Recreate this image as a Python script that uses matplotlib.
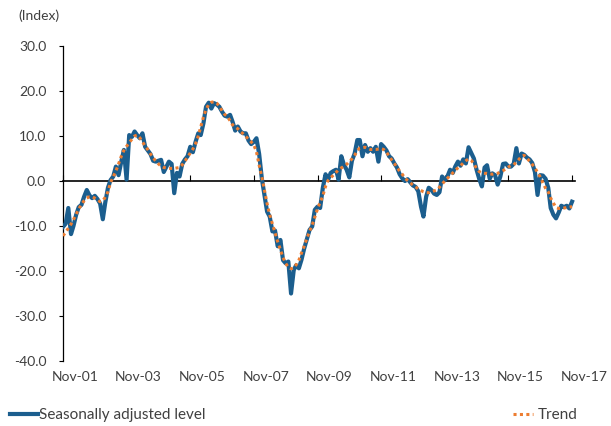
import numpy as np
import pandas as pd
import matplotlib
matplotlib.use('Agg')
import matplotlib.pyplot as plt
import matplotlib.dates as mdates
from matplotlib.transforms import ScaledTranslation

# monthly, Nov-01 .. Nov-17
months = pd.date_range('2001-11-01', periods=193, freq='MS')

seasonally_adjusted = [
    -10.2, -9.5, -6.0, -11.8, -10.0, -7.5, -5.8, -5.3, -3.5, -2.0,
    -3.2, -3.8, -3.3, -4.0, -5.0, -8.5, -4.8, -1.5, 0.2, 1.0,
    3.2, 1.3, 4.3, 6.9, 0.3, 10.2, 9.8, 11.0, 10.2, 9.5,
    10.6, 7.6, 6.8, 6.0, 4.5, 4.3, 4.5, 4.7, 2.0, 3.2,
    4.3, 3.8, -2.7, 1.8, 1.0, 3.8, 4.8, 5.5, 7.6, 6.4,
    8.7, 10.6, 10.2, 12.8, 16.5, 17.4, 16.1, 17.3, 17.0, 16.5,
    15.4, 14.5, 14.3, 14.7, 13.2, 11.2, 12.1, 11.0, 10.6, 10.6,
    9.0, 8.2, 8.7, 9.5, 6.0, 0.5, -3.0, -6.8, -7.9, -11.2,
    -11.0, -14.5, -13.1, -17.6, -18.3, -17.9, -25.0, -19.8, -18.7, -19.4,
    -17.5, -15.0, -13.0, -10.9, -10.1, -6.4, -5.7, -6.0, -1.5, 1.5,
    0.2, 1.8, 2.2, 2.5, 0.3, 5.5, 3.6, 2.5, 0.8, 4.5,
    6.1, 9.1, 9.1, 5.5, 8.0, 6.5, 7.3, 6.5, 7.6, 4.3,
    8.2, 7.6, 6.8, 5.5, 5.0, 3.9, 3.0, 1.5, 0.6, 0.0,
    0.4, -0.3, -1.0, -1.3, -2.3, -5.7, -7.9, -3.5, -1.5, -2.0,
    -2.8, -3.1, -2.5, 1.0, 0.2, 1.0, 2.5, 1.8, 3.2, 4.3,
    3.4, 4.8, 3.9, 7.5, 6.2, 5.0, 2.5, 0.5, -1.2, 3.0,
    3.5, 0.5, 1.7, 1.3, -0.8, 1.0, 3.8, 3.9, 3.2, 3.2,
    3.8, 7.3, 3.9, 6.1, 5.8, 5.2, 4.8, 4.0, 2.0, -3.1,
    1.3, 1.2, 0.5, -1.5, -6.0, -7.5, -8.3, -7.0, -5.5, -5.8,
    -5.5, -6.1, -4.6,
]

trend = [
    -12.2, -11.4, -10.5, -9.6, -8.6, -7.4, -6.2, -5.2, -4.4, -3.8,
    -3.5, -3.5, -3.8, -4.2, -4.6, -4.4, -3.6, -2.4, -0.3, 1.0,
    2.2, 3.8, 5.5, 6.8, 7.7, 8.5, 9.3, 10.0, 10.2, 9.6,
    8.7, 7.8, 7.0, 6.0, 5.2, 4.4, 3.8, 3.3, 3.0, 2.9,
    2.8, 2.8, 2.8, 2.9, 3.0, 3.6, 4.4, 5.3, 6.2, 7.1,
    8.3, 10.0, 12.0, 14.2, 15.9, 17.0, 17.5, 17.6, 17.3, 16.6,
    15.6, 14.8, 14.3, 13.4, 12.5, 12.0, 11.6, 11.0, 10.5, 9.9,
    9.3, 8.7, 8.0, 6.5, 3.5, 0.9, -2.0, -5.0, -7.5, -9.5,
    -11.5, -13.5, -15.3, -17.0, -18.3, -19.2, -19.5, -19.3, -18.6, -17.6,
    -16.0, -14.5, -12.8, -11.2, -9.8, -8.0, -6.2, -4.8, -3.3, -1.2,
    0.1, 0.7, 1.3, 1.9, 2.5, 2.9, 3.3, 3.7, 4.3, 4.9,
    5.7, 6.8, 7.3, 7.4, 7.5, 7.2, 7.0, 7.0, 7.0, 7.1,
    7.2, 7.0, 6.4, 5.6, 4.7, 3.9, 3.0, 2.2, 1.5, 0.6,
    0.1, -0.4, -0.9, -1.3, -1.8, -2.1, -2.4, -2.6, -2.6, -2.4,
    -2.2, -2.0, -1.4, -0.7, 0.0, 0.6, 1.2, 1.8, 2.4, 2.9,
    3.4, 4.0, 4.5, 4.9, 4.6, 3.8, 2.8, 2.1, 1.8, 1.7,
    1.7, 1.6, 1.5, 1.6, 1.7, 2.0, 2.3, 2.7, 3.1, 3.4,
    3.6, 4.2, 4.8, 5.5, 5.7, 5.1, 4.4, 3.7, 2.9, 1.9,
    0.9, -0.4, -1.6, -2.4, -3.8, -4.9, -5.9, -6.1, -6.1, -6.0,
    -5.9, -5.8, -5.7,
]

y_ticks = [-40, -30, -20, -10, 0, 10, 20, 30]
y_labels = ['-40.0', '-30.0', '-20.0', '-10.0', '0.0', '10.0', '20.0', '30.0']
x_tick_dates = pd.date_range('2001-11-01', '2017-11-01', freq='24MS')
x_labels = ['Nov-01', 'Nov-03', 'Nov-05', 'Nov-07', 'Nov-09',
            'Nov-11', 'Nov-13', 'Nov-15', 'Nov-17']

BLUE = '#1b5e8e'
ORANGE = '#ed7d31'
TEXT = '#404040'

plt.rcParams['font.family'] = ['Lato', 'DejaVu Sans']
plt.rcParams['font.size'] = 10

fig = plt.figure(figsize=(6.11, 4.26), dpi=100)
ax = fig.add_axes([63 / 611, 65 / 426, 512 / 611, 315 / 426])

l1, = ax.plot(months, seasonally_adjusted, color=BLUE, lw=3.0, zorder=3,
              solid_joinstyle='round', label='Seasonally adjusted level')
l2, = ax.plot(months, trend, color=ORANGE, lw=2.2, ls=(0, (1, 1.1)),
              dash_capstyle='butt', zorder=4, label='Trend')

ax.set_ylim(-40, 30)
ax.set_xlim(pd.Timestamp('2001-11-01'), pd.Timestamp('2017-12-05'))
ax.set_yticks(y_ticks)
ax.set_yticklabels(y_labels, color=TEXT)
ax.tick_params(axis='y', length=3, width=0.8, pad=9, direction='out')

for s in ['top', 'right']:
    ax.spines[s].set_visible(False)
ax.spines['left'].set_linewidth(0.9)
ax.spines['bottom'].set_position(('data', 0))
ax.spines['bottom'].set_linewidth(1.2)
ax.spines['bottom'].set_zorder(2)

# zero line carries the tick marks, labels sit at the bottom
ax.set_xticks(x_tick_dates)
ax.tick_params(axis='x', direction='in', length=4, width=0.8, labelbottom=False)

sec = ax.secondary_xaxis('bottom')
sec.set_xticks(x_tick_dates)
sec.set_xticklabels(x_labels, color=TEXT)
sec.tick_params(length=0, pad=7)
sec.spines['bottom'].set_visible(False)
shift = ScaledTranslation(12 / 100, 0, fig.dpi_scale_trans)
for lab in sec.get_xticklabels():
    lab.set_transform(lab.get_transform() + shift)

fig.text(18 / 611, 1 - 16 / 426, '(Index)', color=TEXT, va='center', ha='left')

fig.legend(handles=[l1], loc='center left', bbox_to_anchor=(10 / 611, 11 / 426),
           frameon=False, borderpad=0, borderaxespad=0, handlelength=1.8,
           handletextpad=0.12, labelcolor=TEXT, fontsize=11)
fig.legend(handles=[l2], loc='center left', bbox_to_anchor=(513 / 611, 11 / 426),
           frameon=False, borderpad=0, borderaxespad=0, handlelength=1.3,
           handletextpad=0.3, labelcolor=TEXT, fontsize=11)

fig.savefig('out.png', dpi=100)
